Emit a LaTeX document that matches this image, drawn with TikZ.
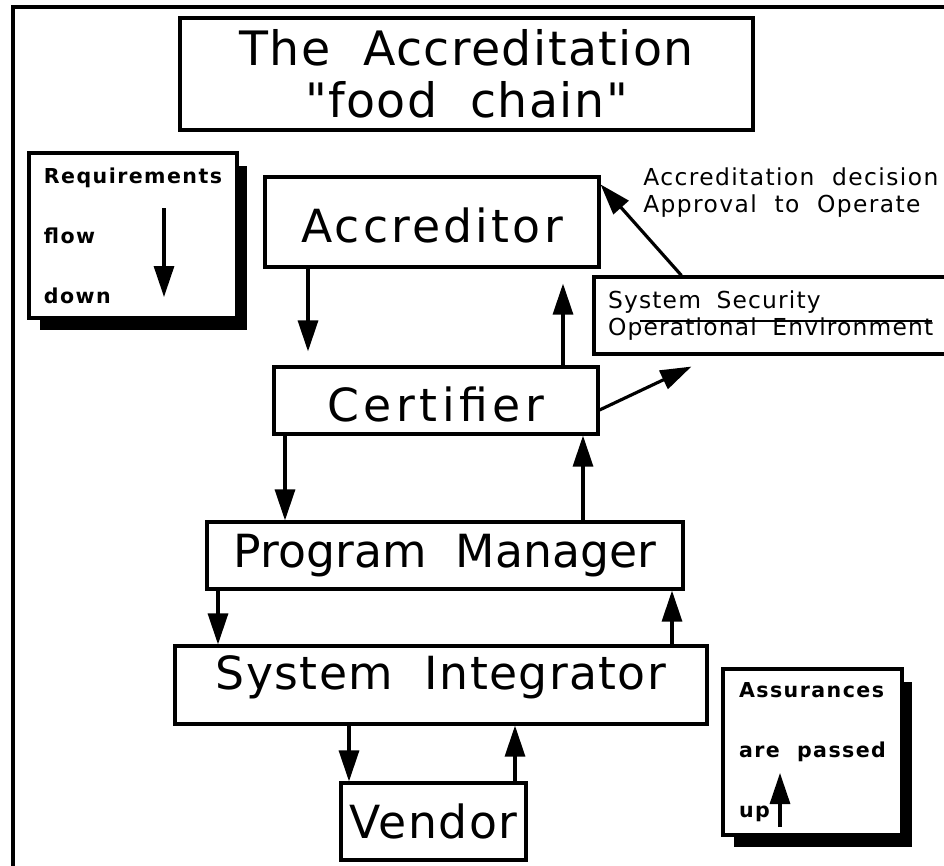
\documentclass[tikz,border=0pt]{standalone}
\usepackage{fontspec}
\setmainfont{DejaVu Sans}[Ligatures=TeXOff]
\usepackage{tikz}
\usetikzlibrary{arrows.meta,shadows}

\begin{document}
\begin{tikzpicture}[
  x=0.02cm,y=-0.02cm,
  box/.style={draw,line width=1.8pt,inner sep=0pt,align=center},
  big/.style={font=\fontsize{26}{30}\selectfont\addfontfeatures{LetterSpace=#1}},
  note/.style={draw,line width=1.8pt,inner sep=0pt,fill=white,align=left,
    drop shadow={shadow xshift=0.21cm,shadow yshift=-0.25cm,fill=black,opacity=1},
    font=\bfseries\fontsize{11.7}{34.2}\selectfont\addfontfeatures{LetterSpace=7}},
  remark/.style={inner sep=0pt,align=left,font=\fontsize{13.3}{15.4}\selectfont\addfontfeatures{LetterSpace=6}},
  arrow/.style={-{Triangle[length=0.62cm,width=0.4cm]},line width=1.8pt}
]
\useasboundingbox (0,0) rectangle (944,866);
% page frame, only top and left edges are in view
\draw[line width=2.2pt] (13,880) -- (13,7) -- (960,7);

\node[box,minimum width=11.46cm,minimum height=2.24cm,font=\fontsize{27}{29.6}\selectfont\addfontfeatures{LetterSpace=3}] (title) at (466.5,74) {The~~Accreditation\\"food~~chain"};

% the chain
\node[box,big=7,minimum width=6.68cm,minimum height=1.8cm,text height=0.84cm] (acc) at (432,222) {Accreditor};
\node[box,big=10,minimum width=6.48cm,minimum height=1.34cm,text height=0.84cm] (cert) at (436,400.5) {Certifier};
\node[box,big=0,minimum width=9.52cm,minimum height=1.34cm] (pm) at (445,555.5) {Program~~Manager};
\node[box,big=3,minimum width=10.64cm,minimum height=1.56cm,text depth=0.48cm] (si) at (441,685) {System~~Integrator};
\node[box,big=3,minimum width=3.7cm,minimum height=1.54cm] (ven) at (433.5,821.5) {Vendor};

% side notes
\node[note,minimum width=4.16cm,minimum height=3.3cm] (reqs) at (133,235.5) {Requirements\\flow\\down};
\node[note,minimum width=3.58cm,minimum height=3.32cm] (assur) at (812.5,752) {Assurances\\are~~passed\\up};
\coordinate (reqtop) at (164,208);
\coordinate (reqbot) at (164,297);
\coordinate (asstop) at (780,773);
\coordinate (assbot) at (780,827);
\draw[arrow] (reqtop) -- (reqbot);
\draw[arrow] (assbot) -- (asstop);

\node[draw,line width=1.8pt,inner sep=0pt,minimum width=7.32cm,minimum height=1.54cm,text width=6.76cm,align=left,
  font=\fontsize{13.3}{15.4}\selectfont\addfontfeatures{LetterSpace=5}] (sys) at (777,315.5) {System~~Security\\Operational~~Environment};
\draw[line width=1.1pt] (640,321) -- (932,321);
\node[remark,anchor=west] (decision) at (643,193) {Accreditation~~decision\\Approval~~to~~Operate};

% requirements down, assurances up
\draw[arrow,shorten >=0.28cm] (308,0 |- acc.south) -- (308,0 |- cert.north);
\draw[arrow,shorten >=0.3cm] (563,0 |- cert.north) -- (563,0 |- acc.south);
\draw[arrow] (285,0 |- cert.south) -- (285,0 |- pm.north);
\draw[arrow] (583,0 |- pm.north) -- (583,0 |- cert.south);
\draw[arrow] (218,0 |- pm.south) -- (218,0 |- si.north);
\draw[arrow] (672,0 |- si.north) -- (672,0 |- pm.south);
\draw[arrow] (349,0 |- si.south) -- (349,0 |- ven.north);
\draw[arrow] (515,0 |- ven.north) -- (515,0 |- si.south);

\draw[arrow] ([xshift=1.78cm]sys.north west) -- ([yshift=-0.18cm]acc.north east);
\draw[arrow] ([yshift=-0.19cm]cert.east) -- ([xshift=1.98cm,yshift=-0.22cm]sys.south west);
\end{tikzpicture}
\end{document}
